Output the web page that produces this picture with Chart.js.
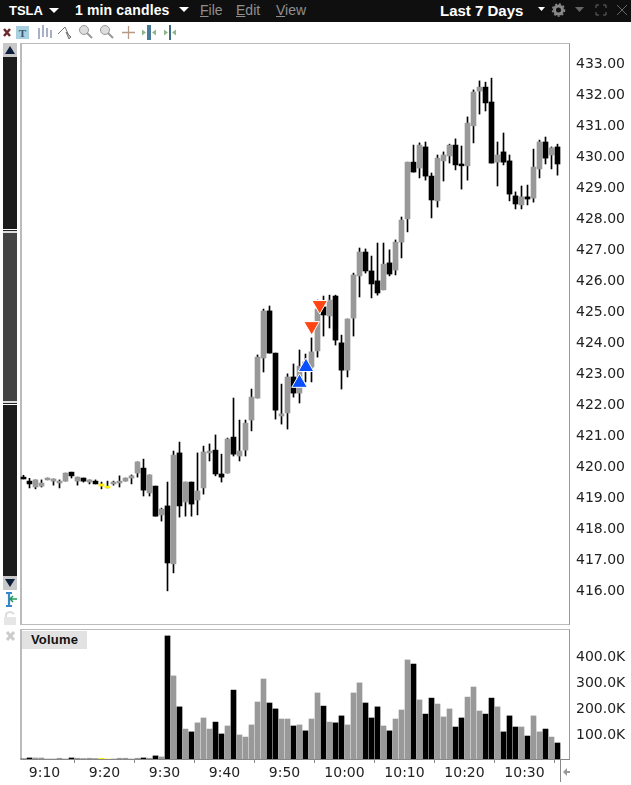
<!DOCTYPE html>
<html>
<head>
<meta charset="utf-8">
<title>TSLA 1 min candles</title>
<script src="https://cdn.jsdelivr.net/npm/chart.js@4"></script>
<style>
  html, body { margin: 0; padding: 0; background: #fff; overflow: hidden; }
  #page { position: relative; width: 631px; height: 785px; font-family: "Liberation Sans", Arial, sans-serif; }
  #page > * { position: absolute; }
  #topbar { left: 0; top: 0; width: 631px; height: 22px; background: #0f0f0f; }
  .hd { top: 2px; height: 17px; line-height: 17px; white-space: nowrap; color: #fff; font-weight: bold; font-size: 14px; }
  .menu { color: #8f8f8f; font-weight: normal; }
  .frame { box-sizing: border-box; border: 1px solid #bbb; border-right-color: #999; }
  canvas { position: absolute; }
  #volLabel { left: 22px; top: 631px; width: 65px; height: 18px; line-height: 18px; background: #e2e2e2; text-align: center; font-weight: bold; font-size: 13px; color: #111; letter-spacing: .2px; }
  .sb { left: 3px; width: 14px; }
</style>
</head>
<body>
<div id="page">
  <div id="topbar"></div>
  <div class="hd" style="left:9px;font-size:13px">TSLA</div>
  <div class="hd" style="left:75px;letter-spacing:.15px">1 min candles</div>
  <div class="hd menu" style="left:200px"><u>F</u>ile</div>
  <div class="hd menu" style="left:236px"><u>E</u>dit</div>
  <div class="hd menu" style="left:276px"><u>V</u>iew</div>
  <div class="hd" style="left:440px;font-size:15px">Last 7 Days</div>
  <svg style="left:0;top:0" width="631" height="42">
    <g fill="#fff"><path d="M49 8h10l-5 5z"/><path d="M179 7h10l-5 5z"/><path d="M538 7h7l-3.500 4z"/></g>
    <path d="M575 7h9l-4.500 5z" fill="#666"/>
    <circle cx="558.500" cy="10" r="4" fill="none" stroke="#888" stroke-width="3"/>
    <circle cx="558.500" cy="10" r="6" fill="none" stroke="#888" stroke-width="1.500" stroke-dasharray="2 2"/>
    <path d="M596 8V5h3M603 5h3v3M606 12v3h-3M599 15h-3v-3" fill="none" stroke="#666"/>
    <path d="M617 5l10 10M627 5l-10 10" stroke="#666"/>
    <path d="M4 29l6 7M10 29l-6 7" stroke="#6e2b2b" stroke-width="2.500"/>
    <rect x="16" y="26" width="13" height="13" fill="#a8cfe0"/>
    <text x="22.500" y="37" text-anchor="middle" font-family="Liberation Serif" font-weight="bold" font-size="11" fill="#35566a">T</text>
    <path d="M39 28v11M43 25v12M47 28v9M51 30v8" stroke="#7788aa" stroke-width="1.300"/>
    <path d="M58 34l7-7 5 11" fill="none" stroke="#777"/><path d="M66 32l3 7 2-2z" fill="#bbb" stroke="#777"/>
    <circle cx="84" cy="30" r="4.500" fill="#ddd" stroke="#999"/><path d="M87 33l5 5" stroke="#999" stroke-width="2"/>
    <circle cx="105" cy="30" r="4.500" fill="#ddd" stroke="#999"/><path d="M108 33l5 5" stroke="#999" stroke-width="2"/>
    <path d="M122 32.500h13M128.500 26v13" stroke="#b89a84" stroke-width="1.300"/>
    <rect x="147" y="25" width="4" height="15" fill="#4a7a9a"/><path d="M146 32.500l-4-3v6zM152 32.500l4-3v6z" fill="#8fb58f"/>
    <rect x="169" y="25" width="2" height="15" fill="#3d6a85"/><path d="M168 32.500l-4-3v6zM172 32.500l4-3v6z" fill="#8fb58f"/>
  </svg>

  <div class="frame" style="left:20px;top:43px;width:550px;height:582px;border-left-width:2px"></div>
  <div class="frame" style="left:20px;top:629px;width:550px;height:131px;border-bottom-color:#888;border-left-width:2px"></div>
  <canvas id="priceChart" style="left:20px;top:43px;width:611px;height:582px"></canvas>
  <canvas id="volumeChart" style="left:20px;top:629px;width:611px;height:156px"></canvas>
  <div id="volLabel">Volume</div>

  <div class="sb" style="top:43px;height:547px;background:#1c1c1c"></div>
  <div class="sb" style="top:233px;height:168px;background:#444"></div>
  <div class="sb" style="top:229px;height:4px;background:linear-gradient(#fff 0,#fff 25%,#222 25%,#222 50%,#ddd 50%)"></div>
  <div class="sb" style="top:401px;height:4px;background:linear-gradient(#ddd 0,#ddd 50%,#222 50%,#222 75%,#fff 75%)"></div>
  <svg style="left:0;top:43px" width="20" height="15"><rect x="3" width="14" height="14" fill="#c8c8c8"/><path d="M10 3l5 8H5z" fill="#0d1f3a"/></svg>
  <svg style="left:0;top:576px" width="20" height="15"><rect x="3" width="14" height="14" fill="#c8c8c8"/><path d="M10 11l5-8H5z" fill="#0d1f3a"/></svg>
  <svg style="left:0;top:592px" width="20" height="50">
    <path d="M6 1h6M6 14h6M9 1v13" stroke="#3a85c8" stroke-width="2.200"/><path d="M17 7h-6M13 4l-3 3 3 3" stroke="#1f9a5a" stroke-width="1.500" fill="none"/>
    <rect x="4" y="25" width="12" height="8" fill="#e6e6e6"/><path d="M6 25v-3q4-4 8 0" fill="none" stroke="#ddd" stroke-width="2"/>
    <path d="M7 40l7 8M14 40l-7 8" stroke="#ccc" stroke-width="3"/>
  </svg>
  <svg style="left:555px;top:759px" width="20" height="26"><path d="M5.500 0v23" stroke="#888"/><path d="M8 13l4-4v3h3v2h-3v3z" fill="#999"/></svg>
</div>

<script>
const times = ['9:06','9:07','9:08','9:09','9:10','9:11','9:12','9:13','9:14','9:15','9:16','9:17','9:18','9:19','9:20','9:21','9:22','9:23','9:24','9:25','9:26','9:27','9:28','9:29',
  '9:30','9:31','9:32','9:33','9:34','9:35','9:36','9:37','9:38','9:39','9:40','9:41','9:42','9:43','9:44','9:45','9:46','9:47','9:48','9:49','9:50','9:51','9:52','9:53','9:54','9:55','9:56','9:57','9:58','9:59',
  '10:00','10:01','10:02','10:03','10:04','10:05','10:06','10:07','10:08','10:09','10:10','10:11','10:12','10:13','10:14','10:15','10:16','10:17','10:18','10:19','10:20','10:21','10:22','10:23','10:24','10:25','10:26','10:27','10:28','10:29','10:30','10:31','10:32','10:33','10:34','10:35'];

const opens = [419.61,419.48,419.29,419.32,419.52,419.48,419.42,419.48,419.77,419.48,419.58,419.45,419.48,419.39,419.32,419.39,419.42,419.48,419.58,419.74,419.90,419.10,419.32,418.39,
  418.68,416.81,420.39,418.81,419.45,418.87,419.26,420.39,420.48,419.71,419.74,420.90,420.29,420.48,421.45,422.16,423.45,424.97,423.61,421.58,421.68,422.84,422.32,423.32,423.16,423.68,425.10,424.81,425.45,423.94,
  423.06,424.74,426.10,426.87,426.26,425.94,425.65,426.52,426.29,427.19,427.94,429.77,429.58,430.26,429.32,428.52,429.81,429.97,430.32,429.71,429.65,430.94,432.06,432.19,431.71,429.77,430.10,429.81,428.68,428.39,428.65,428.61,429.55,430.42,430.00,430.26];
const highs = [419.67,419.57,419.52,419.52,419.58,419.55,419.52,419.74,419.77,419.61,419.58,419.52,419.52,419.45,419.48,419.48,419.65,419.58,419.68,420.10,420.19,419.68,419.32,418.61,
  419.45,420.45,420.74,419.45,419.45,420.39,420.61,420.68,420.97,420.35,420.87,422.16,421.45,421.45,422.45,423.55,425.03,425.13,423.61,422.61,422.94,423.26,423.71,423.58,424.10,425.32,425.45,425.48,425.48,424.19,
  424.71,426.19,427.00,426.97,426.74,427.16,427.16,426.94,427.26,428.00,429.77,430.32,430.39,430.42,429.42,430.00,430.10,430.35,430.52,430.29,431.23,432.10,432.39,432.35,432.48,430.42,430.71,430.00,428.81,429.00,429.03,430.19,430.48,430.58,430.26,430.35];
const lows = [419.55,419.26,419.23,419.29,419.52,419.35,419.26,419.48,419.58,419.35,419.45,419.39,419.39,419.23,419.26,419.35,419.29,419.48,419.39,419.61,419.00,419.00,418.35,418.19,
  415.94,416.52,418.32,418.35,418.35,418.39,419.06,420.13,419.65,419.45,419.74,420.29,420.13,420.29,421.10,422.16,423.00,423.61,421.48,421.32,421.16,422.19,422.00,422.68,422.68,423.48,424.16,424.42,423.87,422.45,
  422.84,424.16,425.42,426.19,425.39,425.48,425.65,426.10,426.13,426.68,427.52,429.45,429.26,429.19,427.97,428.32,429.16,429.74,429.52,428.90,429.19,430.39,431.32,431.42,429.74,429.00,429.68,428.52,428.26,428.26,428.39,428.48,429.26,429.71,429.55,429.35];
const closes = [419.55,419.39,419.52,419.42,419.58,419.55,419.48,419.74,419.65,419.61,419.48,419.52,419.39,419.32,419.26,419.45,419.48,419.58,419.65,420.10,419.19,419.68,418.35,418.58,
  416.84,420.32,418.68,419.45,418.74,419.16,420.42,420.45,419.71,419.61,420.84,420.35,420.45,421.35,422.19,423.48,424.97,423.61,421.77,421.65,422.84,422.32,423.19,423.06,423.65,425.03,424.84,425.32,424.03,423.06,
  424.71,426.13,426.87,426.26,425.84,425.55,426.48,426.16,427.19,427.90,429.77,429.45,430.32,429.32,428.55,429.90,430.00,430.32,429.68,429.65,431.03,432.03,432.19,431.68,429.74,430.00,429.77,428.74,428.42,428.65,428.58,429.61,430.42,429.90,430.23,429.71];
const volumes = [0,4000,4000,4000,0,0,3000,0,4000,3000,0,3000,0,3000,0,0,3000,3000,0,3000,4000,3000,12000,8000,
  477000,322000,202000,116000,105000,140000,159000,116000,143000,97000,128000,267000,93000,85000,132000,221000,310000,217000,194000,155000,155000,128000,132000,109000,155000,256000,205000,143000,140000,167000,
  132000,256000,295000,217000,159000,202000,128000,109000,155000,190000,384000,368000,229000,174000,236000,213000,163000,194000,124000,159000,240000,279000,186000,174000,236000,202000,105000,167000,124000,124000,89000,167000,105000,116000,85000,62000];
const flatBars = ['9:19','9:20'];

const priceTicks = [416,417,418,419,420,421,422,423,424,425,426,427,428,429,430,431,432,433];
const volumeTicks = [100000,200000,300000,400000];
const timeTicks = ['9:10','9:20','9:30','9:40','9:50','10:00','10:10','10:20','10:30'];

const buyTimes = [592.5,593.58];
const buyPrices = [422.65,423.16];
const sellTimes = [594.53,595.87];
const sellPrices = [424.48,425.16];

const toMinute = t => { const p = t.split(':'); return +p[0] * 60 + +p[1]; };
const minuteLabel = m => Math.floor(m / 60) + ':' + String(m % 60).padStart(2, '0');
const barX = times.map(t => toMinute(t) + 0.5);
const barColors = times.map((t, i) => flatBars.includes(t) ? '#ffee00' : closes[i] > opens[i] ? '#999999' : '#000000');

const axisFont = { family: 'DejaVu Sans', size: 14 };
const xMin = 545.917, xMax = 637.583;

function bareOptions() {
  return {
    responsive: false,
    animation: false,
    events: [],
    layout: { padding: 0, autoPadding: false },
    plugins: { legend: { display: false }, tooltip: { enabled: false } },
  };
}

function rightAxis(min, max, tickValues, fmt) {
  return {
    position: 'right', min: min, max: max,
    grid: { display: false, drawTicks: false }, border: { display: false },
    afterBuildTicks: s => { s.ticks = tickValues.map(v => ({ value: v })); },
    afterFit: s => { s.width = 61; s.paddingTop = 0; s.paddingBottom = 0; },
    ticks: { font: axisFont, color: '#222', padding: 6, labelOffset: 2, callback: fmt, autoSkip: false, maxRotation: 0 }
  };
}

new Chart(document.getElementById('priceChart'), {
  type: 'bar',
  data: {
    datasets: [
      { type: 'scatter', order: 0, data: buyTimes.map((t, i) => ({ x: t, y: buyPrices[i] })),
        pointStyle: 'triangle', pointRadius: 9, backgroundColor: '#0a50ff', borderColor: '#fff', borderWidth: 1 },
      { type: 'scatter', order: 0, data: sellTimes.map((t, i) => ({ x: t, y: sellPrices[i] })),
        pointStyle: 'triangle', rotation: 180, pointRadius: 9, backgroundColor: '#ff4513', borderColor: '#fff', borderWidth: 1 },
      { order: 1, grouped: false, barThickness: 5, borderWidth: 0, borderSkipped: false, backgroundColor: barColors,
        data: barX.map((x, i) => ({ x: x, y: [opens[i], closes[i]] })) },
      { order: 2, grouped: false, barThickness: 1, borderWidth: 0, borderSkipped: false, backgroundColor: '#000',
        data: barX.map((x, i) => ({ x: x, y: [lows[i], highs[i]] })) }
    ]
  },
  options: Object.assign(bareOptions(), {
    scales: {
      x: { type: 'linear', offset: false, min: xMin, max: xMax, display: false, afterFit: s => { s.height = 0; } },
      y: rightAxis(414.839, 433.613, priceTicks, v => v.toFixed(2))
    }
  })
});

new Chart(document.getElementById('volumeChart'), {
  type: 'bar',
  data: {
    datasets: [{
      barThickness: 5, borderWidth: 0, backgroundColor: barColors,
      data: barX.map((x, i) => ({ x: x, y: volumes[i] }))
    }]
  },
  options: Object.assign(bareOptions(), {
    scales: {
      x: {
        type: 'linear', offset: false, min: xMin, max: xMax,
        grid: { drawOnChartArea: false, color: '#888', tickLength: 4 }, border: { display: false },
        afterBuildTicks: s => { s.ticks = timeTicks.map(t => ({ value: toMinute(t) })); },
        afterFit: s => { s.height = 26; s.paddingLeft = 0; s.paddingRight = 0; },
        ticks: { font: axisFont, color: '#222', padding: 2, autoSkip: false, maxRotation: 0, callback: minuteLabel }
      },
      y: rightAxis(0, 503900, volumeTicks, v => (v / 1000).toFixed(1) + 'K')
    }
  })
});
</script>
</body>
</html>
